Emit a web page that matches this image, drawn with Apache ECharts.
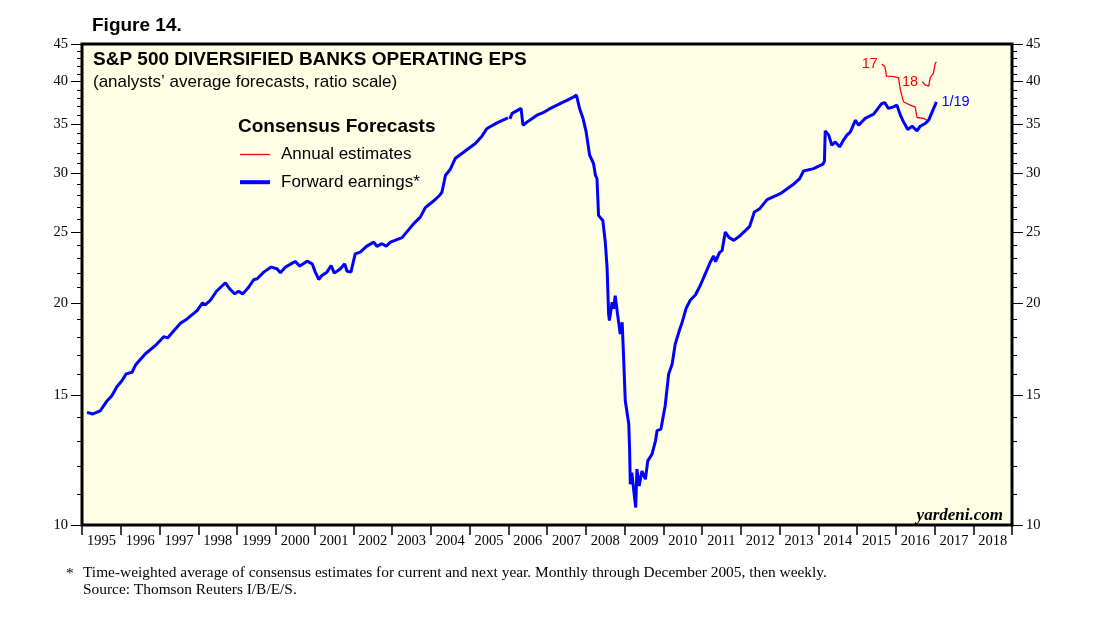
<!DOCTYPE html>
<html><head><meta charset="utf-8">
<script src="https://cdn.jsdelivr.net/npm/echarts@6/dist/echarts.min.js"></script>
<style>html,body{margin:0;padding:0;background:#fff}#c{width:1107px;height:617px}</style>
</head><body><div id="c"></div>
<script>
// ---------- data ----------
const yearLabels = ['1995','1996','1997','1998','1999','2000','2001','2002','2003','2004','2005','2006','2007','2008','2009','2010','2011','2012','2013','2014','2015','2016','2017','2018'];
const yMajorTicks = [10,15,20,25,30,35,40,45];
const yMinorTicks = [11,12,13,14,16,17,18,19,21,22,23,24,26,27,28,29,31,32,33,34,36,37,38,39,41,42,43,44];

// Forward earnings (decimal years); monthly through Dec 2005, then weekly (null = break)
const fwdDates = [1995.13,1995.28,1995.47,1995.65,1995.77,1995.90,1996.03,1996.14,1996.29,1996.38,1996.63,1996.89,
1997.11,1997.21,1997.36,1997.54,1997.71,1997.97,1998.11,1998.18,1998.31,1998.47,1998.70,1998.81,1998.94,
1999.04,1999.15,1999.30,1999.43,1999.52,1999.69,1999.88,2000.03,2000.12,2000.25,2000.50,2000.62,2000.81,2000.94,
2001.02,2001.11,2001.19,2001.32,2001.43,2001.51,2001.67,2001.78,2001.84,2001.94,2002.05,2002.18,2002.35,2002.53,
2002.61,2002.74,2002.85,2002.96,2003.26,2003.56,2003.73,2003.86,2004.07,2004.23,2004.29,2004.38,2004.50,2004.63,
2004.94,2005.15,2005.32,2005.45,2005.71,2005.99,2006.015,
2006.04,2006.10,2006.33,2006.38,2006.50,2006.60,2006.74,2006.90,2007.05,2007.26,2007.40,2007.50,2007.69,2007.76,2007.84,2007.93,2008.01,2008.10,2008.20,
2008.25,2008.29,2008.33,2008.44,2008.50,2008.55,2008.59,2008.61,2008.68,2008.72,2008.76,2008.82,2008.89,2008.94,
2008.98,2009.02,2009.11,2009.13,2009.15,2009.19,2009.24,2009.29,2009.32,2009.38,2009.45,2009.54,2009.60,2009.71,
2009.80,2009.84,2009.94,2010.05,2010.14,2010.23,2010.31,2010.42,2010.48,2010.59,2010.70,2010.83,2010.96,2011.09,
2011.22,2011.30,2011.35,2011.45,2011.52,2011.60,2011.69,2011.82,2011.99,2012.23,2012.35,2012.49,2012.68,2013.02,
2013.36,2013.52,2013.62,2013.88,2014.12,2014.16,2014.18,2014.27,2014.35,2014.44,2014.55,2014.65,2014.74,2014.83,
2014.96,2015.04,2015.21,2015.43,2015.64,2015.72,2015.81,2015.94,2016.03,2016.12,2016.20,2016.31,2016.42,2016.55,
2016.63,2016.76,2016.85,2016.94,2017.05];
const fwdValues = [14.22,14.15,14.29,14.75,14.98,15.41,15.70,16.04,16.12,16.49,17.07,17.52,
18.02,17.95,18.33,18.79,19.05,19.55,20.03,19.90,20.18,20.77,21.33,20.93,20.60,
20.77,20.60,21.03,21.53,21.60,22.05,22.40,22.28,22.01,22.40,22.80,22.47,22.82,22.63,
22.05,21.55,21.82,22.05,22.51,21.98,22.28,22.63,22.11,22.05,23.35,23.47,23.92,24.22,
23.90,24.10,23.92,24.22,24.56,25.66,26.19,26.98,27.54,28.04,28.33,29.85,30.39,31.45,
32.35,32.96,33.73,34.55,35.17,35.72,null,
35.60,36.22,36.79,34.91,35.30,35.60,36.02,36.30,36.70,37.17,37.50,37.70,38.15,38.35,36.79,35.66,34.19,31.78,30.97,
29.85,29.54,26.33,25.92,24.35,22.40,19.35,18.95,20.07,19.66,20.49,19.35,18.17,18.85,
16.72,14.75,13.71,12.74,11.36,11.78,11.12,10.56,11.91,11.30,11.84,11.54,12.22,12.48,
13.01,13.43,13.50,14.52,16.04,16.54,17.62,18.40,18.79,19.69,20.21,20.53,21.18,21.97,
22.78,23.19,22.78,23.43,23.60,24.99,24.60,24.35,24.73,25.44,26.61,26.89,27.66,28.18,
29.02,29.54,30.25,30.48,30.90,31.20,34.30,33.84,32.79,33.13,32.62,33.31,33.84,34.19,
35.46,34.91,35.66,36.14,37.37,37.44,36.79,36.97,37.17,36.02,35.28,34.45,34.80,34.30,
34.80,35.10,35.46,36.40,37.56];

// Annual estimates
const est17Dates = [2015.64,2015.72,2015.76,2015.90,2016.07,2016.12,2016.20,2016.37,2016.50,2016.55,2016.72,2016.85];
const est17Values = [42.27,41.91,40.71,40.66,40.52,38.96,37.56,37.17,36.97,35.76,35.66,35.37];
const est18Dates = [2016.68,2016.76,2016.85,2016.89,2016.97,2017.02,2017.05];
const est18Values = [40.00,39.59,39.46,40.52,41.05,42.35,42.56];

// ---------- chart ----------
const SANS = 'Liberation Sans, Arial, sans-serif';
const SERIF = 'Liberation Serif, Times New Roman, serif';
const BLUE = '#0000FF', RED = '#FF0000';

function pairs(ds, vs) { return ds.map((d, i) => [d, vs[i]]); }
function labelFirst(ds, vs, txt) {
  return ds.map((d, i) => i === 0
    ? { value: [d, vs[i]], symbol: 'circle', symbolSize: 0,
        label: { show: true, formatter: txt, position: 'left', distance: 4, color: RED, fontSize: 14.5, fontFamily: SANS } }
    : [d, vs[i]]);
}

const yBase = { type: 'log', logBase: 10, min: 10, max: 45, gridIndex: 0,
  axisLine: { show: false }, splitLine: { show: false }, minorTick: { show: false } };

const option = {
  animation: false,
  backgroundColor: '#ffffff',
  title: [
    { text: 'Figure 14.', left: 92, top: 16, padding: 0,
      textStyle: { fontFamily: SANS, fontWeight: 'bold', fontSize: 19, color: '#000' } },
    { text: 'S&P 500 DIVERSIFIED BANKS OPERATING EPS', left: 93, top: 50, padding: 0,
      textStyle: { fontFamily: SANS, fontWeight: 'bold', fontSize: 19, color: '#000' } },
    { text: '(analysts’ average forecasts, ratio scale)', left: 93, top: 74, padding: 0,
      textStyle: { fontFamily: SANS, fontWeight: 'normal', fontSize: 17, color: '#000' } },
    { text: 'Consensus Forecasts', left: 238, top: 117, padding: 0,
      textStyle: { fontFamily: SANS, fontWeight: 'bold', fontSize: 19, color: '#000' } },
    { text: 'yardeni.com', right: 104, top: 507, padding: 0,
      textStyle: { fontFamily: SERIF, fontStyle: 'italic', fontWeight: 'bold', fontSize: 17, color: '#000' } },
    { text: '*', left: 66, top: 566, padding: 0,
      textStyle: { fontFamily: SERIF, fontWeight: 'normal', fontSize: 15.4, color: '#000' } },
    { text: 'Time-weighted average of consensus estimates for current and next year. Monthly through December 2005, then weekly.\nSource: Thomson Reuters I/B/E/S.',
      left: 83, top: 565, padding: 0,
      textStyle: { fontFamily: SERIF, fontWeight: 'normal', fontSize: 15.4, lineHeight: 16.5, color: '#000' } }
  ],
  legend: {
    orient: 'vertical', left: 238, top: 146, padding: 0,
    itemWidth: 30, itemHeight: 20, itemGap: 10.7,
    data: [
      { name: 'Annual estimates', lineStyle: { width: 1.3 } },
      { name: 'Forward earnings*', lineStyle: { width: 4 } }
    ],
    itemStyle: { opacity: 0 },
    textStyle: { fontFamily: SANS, fontSize: 17, color: '#000', padding: [0, 0, 0, 6] },
    selectedMode: false
  },
  grid: { left: 82, top: 44, width: 930, height: 481, show: true,
    backgroundColor: '#FFFFE6', borderColor: '#000', borderWidth: 3 },
  xAxis: [
    { type: 'value', min: 1995, max: 2019, interval: 1, position: 'bottom',
      axisLine: { show: false }, splitLine: { show: false },
      axisTick: { show: true, length: 10, lineStyle: { color: '#000', width: 1.5 } },
      axisLabel: { show: false } },
    { type: 'category', data: yearLabels, position: 'bottom', boundaryGap: true,
      axisLine: { show: false }, axisTick: { show: false }, splitLine: { show: false },
      axisLabel: { show: true, interval: 0, margin: 9, fontFamily: SERIF, fontSize: 14.5, color: '#000' } }
  ],
  yAxis: [
    Object.assign({}, yBase, { position: 'left',
      axisTick: { show: true, customValues: yMajorTicks, length: 11, lineStyle: { color: '#000', width: 1 } },
      axisLabel: { show: true, customValues: yMajorTicks, margin: 14, fontFamily: SERIF, fontSize: 14.5, color: '#000' } }),
    Object.assign({}, yBase, { position: 'left',
      axisTick: { show: true, customValues: yMinorTicks, length: 5, lineStyle: { color: '#000', width: 1 } },
      axisLabel: { show: false } }),
    Object.assign({}, yBase, { position: 'right',
      axisTick: { show: true, customValues: yMajorTicks, length: 11, lineStyle: { color: '#000', width: 1 } },
      axisLabel: { show: true, customValues: yMajorTicks, margin: 14, fontFamily: SERIF, fontSize: 14.5, color: '#000' } }),
    Object.assign({}, yBase, { position: 'right',
      axisTick: { show: true, customValues: yMinorTicks, length: 5, lineStyle: { color: '#000', width: 1 } },
      axisLabel: { show: false } })
  ],
  series: [
    { name: 'Annual estimates', type: 'line', xAxisIndex: 0, yAxisIndex: 0,
      data: labelFirst(est17Dates, est17Values, '17'), symbol: 'none', showSymbol: true,
      lineStyle: { color: RED, width: 1.3 }, itemStyle: { color: RED }, silent: true },
    { name: 'Annual estimates', type: 'line', xAxisIndex: 0, yAxisIndex: 0,
      data: labelFirst(est18Dates, est18Values, '18'), symbol: 'none', showSymbol: true,
      lineStyle: { color: RED, width: 1.3 }, itemStyle: { color: RED }, silent: true },
    { name: 'Forward earnings*', type: 'line', xAxisIndex: 0, yAxisIndex: 0,
      data: pairs(fwdDates, fwdValues), symbol: 'none', connectNulls: false,
      lineStyle: { color: BLUE, width: 3 }, itemStyle: { color: BLUE }, silent: true,
      endLabel: { show: true, formatter: '1/19', color: BLUE, fontSize: 14.5, fontFamily: SANS, distance: 5 } }
  ]
};

const chart = echarts.init(document.getElementById('c'), null, { renderer: 'canvas' });
chart.setOption(option);
</script>
</body></html>
